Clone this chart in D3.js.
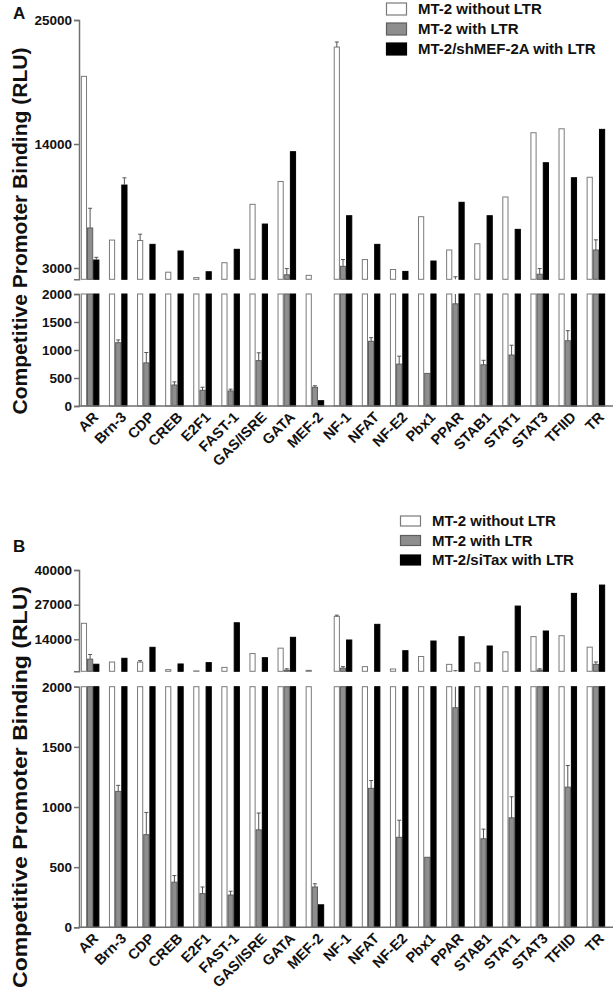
<!DOCTYPE html>
<html>
<head>
<meta charset="utf-8">
<script src="https://cdn.jsdelivr.net/npm/d3@7"></script>
<style>
  html, body { margin: 0; padding: 0; background: #fff; }
  svg { display: block; font-family: "Liberation Sans", Arial, sans-serif; }
</style>
</head>
<body>
<svg id="chart" width="616" height="992"></svg>
<script>
// ---------------- DATA ----------------
const categories = ["AR","Brn-3","CDP","CREB","E2F1","FAST-1","GAS/ISRE","GATA","MEF-2","NF-1","NFAT","NF-E2","Pbx1","PPAR","STAB1","STAT1","STAT3","TFIID","TR"];

// MT-2 without LTR (shared by both panels)
const withoutLTR      = [20000,5480,5440,2630,2150,3470,8650,10680,2350,22600,3750,2870,7550,4600,5150,9300,15000,15350,11050];
const withoutLTRErr   = [0,0,560,0,0,0,0,0,0,450,0,0,0,0,0,0,0,0,0];
// MT-2 with LTR (shared by both panels)
const withLTR         = [6550,1130,770,375,280,268,810,2400,335,3150,1155,748,582,1825,736,910,2450,1165,4600];
const withLTRErr      = [1750,50,185,55,55,32,140,550,27,600,65,142,0,400,80,175,500,180,900];
// Panel A: MT-2/shMEF-2A with LTR
const shMEF2A         = [3710,10360,5100,4510,2670,4660,6900,13320,95,7640,5100,2700,3620,8830,7640,6430,12340,11010,15300];
const shMEF2AErr      = [240,640,0,0,0,0,0,0,0,0,0,0,0,0,0,0,0,0,0];
// Panel B: MT-2/siTax with LTR
const siTax           = [4650,6880,11000,4750,5250,20200,7100,14750,187,13740,19620,9730,13360,14980,11490,26470,17110,31230,34350];
const siTaxErr        = [0,0,0,0,0,0,0,0,0,0,0,0,0,0,0,0,0,0,0];

const legendA = ["MT-2 without LTR","MT-2 with LTR","MT-2/shMEF-2A with LTR"];
const legendB = ["MT-2 without LTR","MT-2 with LTR","MT-2/siTax with LTR"];

const lowerTicks = [0,500,1000,1500,2000];
const upperTicksA = [3000,14000,25000];
const upperTicksB = [14000,27000,40000];
const breakValue = 2000;
const yTitle = "Competitive Promoter Binding (RLU)";

// ---------------- STYLE / LAYOUT ----------------
const fills   = ["#ffffff","#8e8e8e","#000000"];
const strokes = ["#7a7a7a","#5e5e5e","#000000"];
const axisColor = "#707070";

const svg = d3.select("#chart");
const x0 = d3.scaleBand().domain(categories).range([80, 606]).paddingInner(0.34).paddingOuter(0.03);
const bw = x0.bandwidth() / 3;

function drawPanel(p) {
  const g = svg.append("g");
  const yU = d3.scaleLinear().domain([breakValue, p.upperMax]).range([p.uBottom, p.uTop]);
  const yL = d3.scaleLinear().domain([0, breakValue]).range([p.lBottom, p.lTop]);

  const series = p.series;
  const rows = [];
  series.forEach((s, si) => {
    categories.forEach((c, i) => rows.push({c, si, v: s.values[i], e: s.err[i]}));
  });

  // lower segment bars
  g.append("g").selectAll("rect").data(rows).join("rect")
    .attr("x", d => x0(d.c) + d.si * bw + 0.5)
    .attr("width", bw - 1)
    .attr("y", d => yL(Math.min(d.v, breakValue)))
    .attr("height", d => yL(0) - yL(Math.min(d.v, breakValue)))
    .attr("fill", d => fills[d.si])
    .attr("stroke", d => strokes[d.si])
    .attr("stroke-width", 1);

  // upper segment bars
  g.append("g").selectAll("rect").data(rows.filter(d => d.v > breakValue)).join("rect")
    .attr("x", d => x0(d.c) + d.si * bw + 0.5)
    .attr("width", bw - 1)
    .attr("y", d => yU(d.v))
    .attr("height", d => yU(breakValue) - yU(d.v))
    .attr("fill", d => fills[d.si])
    .attr("stroke", d => strokes[d.si])
    .attr("stroke-width", 1);

  // error bars (upward only)
  const errs = rows.filter(d => d.e > 0);
  const eg = g.append("g").attr("stroke", "#555").attr("stroke-width", 1).attr("fill", "none");
  errs.forEach(d => {
    const cx = x0(d.c) + d.si * bw + bw / 2;
    const top = d.v + d.e;
    if (d.v < breakValue) {
      eg.append("line").attr("x1", cx).attr("x2", cx)
        .attr("y1", yL(d.v)).attr("y2", yL(Math.min(top, breakValue)));
    }
    if (top > breakValue) {
      eg.append("line").attr("x1", cx).attr("x2", cx)
        .attr("y1", yU(Math.max(d.v, breakValue))).attr("y2", yU(top));
    }
    const yc = top > breakValue ? yU(top) : yL(top);
    eg.append("line").attr("x1", cx - 2).attr("x2", cx + 2).attr("y1", yc).attr("y2", yc);
  });

  // y axes
  const axU = g.append("g").attr("transform", "translate(79,0)")
    .call(d3.axisLeft(yU).tickValues(p.upperTicks).tickSize(5).tickSizeOuter(5).tickFormat(d3.format("d")));
  const axL = g.append("g").attr("transform", "translate(79,0)")
    .call(d3.axisLeft(yL).tickValues(lowerTicks).tickSize(5).tickSizeOuter(5).tickFormat(d3.format("d")));
  [axU, axL].forEach(ax => {
    ax.selectAll("path, line").attr("stroke", axisColor).attr("stroke-width", 1.5);
    ax.selectAll("text").attr("font-size", 13.5).attr("font-weight", "bold").attr("fill", "#111").attr("x", -7);
  });

  // x axis
  const axX = g.append("g").attr("transform", `translate(0,${p.lBottom})`)
    .call(d3.axisBottom(x0).tickSize(0));
  axX.select(".domain").remove();
  axX.selectAll("text")
    .attr("font-size", 14.5).attr("font-weight", "bold").attr("fill", "#111")
    .attr("text-anchor", "end").attr("y", 0).attr("dy", 0)
    .attr("transform", "translate(9,12) rotate(-45)");
  g.append("line").attr("x1", 78.5).attr("x2", 613).attr("y1", p.lBottom).attr("y2", p.lBottom)
    .attr("stroke", axisColor).attr("stroke-width", 1.5);

  // y title
  g.append("text")
    .attr("transform", `translate(27,${p.titleY}) rotate(-90)`)
    .attr("text-anchor", "middle")
    .attr("font-size", 20).attr("font-weight", "bold").attr("fill", "#111")
    .attr("textLength", p.titleLen).attr("lengthAdjust", "spacingAndGlyphs")
    .text(yTitle);

  // panel letter
  g.append("text").attr("x", 13).attr("y", p.letterY)
    .attr("font-size", 17).attr("font-weight", "bold").attr("fill", "#111").text(p.letter);

  // legend
  const lg = g.append("g");
  p.legend.forEach((t, i) => {
    const cy = p.legY + i * p.legStep;
    lg.append("rect").attr("x", p.legX + 0.5).attr("y", cy - p.boxH / 2).attr("width", 20).attr("height", p.boxH)
      .attr("fill", fills[i]).attr("stroke", strokes[i]).attr("stroke-width", 1.2);
    lg.append("text").attr("x", p.legX + 32).attr("y", cy + 5.3)
      .attr("font-size", 15).attr("font-weight", "bold").attr("fill", "#111").text(t);
  });
}

drawPanel({
  letter: "A", letterY: 19,
  upperMax: 25000, upperTicks: upperTicksA,
  uTop: 20, uBottom: 279.3, lTop: 294, lBottom: 406,
  titleY: 231, titleLen: 367,
  legend: legendA, legX: 386, legY: 9, legStep: 20, boxH: 12,
  series: [
    {values: withoutLTR, err: withoutLTRErr},
    {values: withLTR, err: withLTRErr},
    {values: shMEF2A, err: shMEF2AErr}
  ]
});

drawPanel({
  letter: "B", letterY: 552,
  upperMax: 40000, upperTicks: upperTicksB,
  uTop: 570, uBottom: 671.3, lTop: 686.7, lBottom: 927.3,
  titleY: 787, titleLen: 402,
  legend: legendB, legX: 400, legY: 521, legStep: 19.5, boxH: 10,
  series: [
    {values: withoutLTR, err: withoutLTRErr},
    {values: withLTR, err: withLTRErr},
    {values: siTax, err: siTaxErr}
  ]
});
</script>
</body>
</html>
